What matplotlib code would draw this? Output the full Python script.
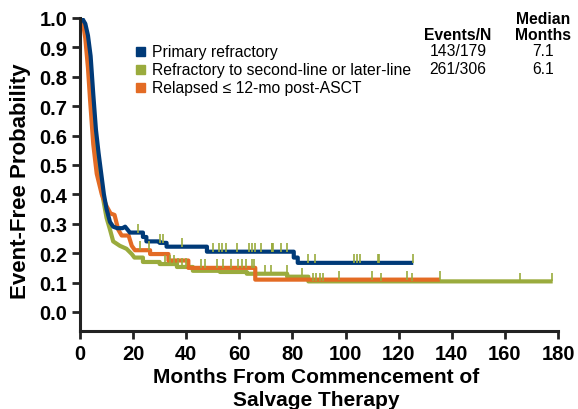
import numpy as np
import matplotlib.pyplot as plt

plt.rcParams['font.family'] = ['Liberation Sans', 'DejaVu Sans']

# Kaplan-Meier curves (months, probability)
blue_t = [0, 0.7, 2, 3, 4, 5, 6, 7, 8, 9, 10, 11.3, 12.5, 14, 16, 17, 18.8, 23.7, 25, 30, 32.6, 47.8, 80.5, 82, 125.5]
blue_s = [1.0, 1.0, 0.98, 0.94, 0.87, 0.74, 0.62, 0.54, 0.47, 0.40, 0.35, 0.306, 0.29, 0.285, 0.285, 0.29, 0.27, 0.255, 0.24, 0.235, 0.222, 0.205, 0.185, 0.167, 0.167]

orange_t = [0, 1, 2, 3, 3.8, 5, 6.3, 8.2, 10, 11.5, 13, 14.4, 15.7, 18.3, 19.5, 20.7, 26.4, 33.3, 40.8, 66, 135.5]
orange_s = [1.0, 0.99, 0.93, 0.83, 0.72, 0.57, 0.47, 0.40, 0.36, 0.335, 0.33, 0.28, 0.26, 0.26, 0.225, 0.21, 0.197, 0.175, 0.15, 0.11, 0.11]

green_t = [0, 1, 2, 3, 4, 5, 6, 7, 8, 9, 10, 11.3, 12.5, 15, 17.5, 19.5, 20.5, 23.7, 30, 36.5, 42.5, 52.7, 62.8, 78, 86, 178]
green_s = [1.0, 0.99, 0.96, 0.88, 0.76, 0.64, 0.55, 0.48, 0.42, 0.37, 0.32, 0.28, 0.24, 0.225, 0.215, 0.197, 0.185, 0.17, 0.163, 0.153, 0.14, 0.136, 0.13, 0.12, 0.104, 0.104]

# censored observations
blue_cens = [21.7, 30.1, 31.4, 38.3, 50, 52.4, 53.6, 55, 59, 63.8, 64.9, 66, 68.3, 72.2, 72.4, 72.7,
             75.8, 78.1, 85.7, 88.6, 103.2, 104.2, 105.4, 112.2, 112.5, 125.5]
orange_cens = [22.6, 26, 45.6, 47, 51.5, 54, 57, 59.4, 60.9, 62.5, 64.6, 65.6, 97.6, 110, 123.2, 135.5]
green_cens = [32, 34, 35.5, 37, 38.5, 40, 69.7, 71.9, 77.8, 83.7, 87.6, 88.7, 90.4, 91.6, 113.4,
              125.2, 165.7, 177.8]

labels = ["Primary refractory", "Refractory to second-line or later-line", "Relapsed \u2264 12-mo post-ASCT"]
events = ["143/179", "261/306", ""]
medians = ["7.1", "6.1", ""]

c_blue = "#003a78"
c_green = "#9aab3d"
c_orange = "#e36b24"

# the steep early drop looks smooth in the original, steps only after this
smooth_until = 21

fig = plt.figure(figsize=(5.78, 4.10), dpi=100)
ax = fig.add_axes([0.1384, 0.190, 0.827, 0.764])


def surv_at(ts, ss, x):
    i = np.searchsorted(ts, x, side='right') - 1
    return np.array(ss)[i]


def km_path(ts, ss):
    ts = np.array(ts, float)
    ss = np.array(ss, float)
    k = np.searchsorted(ts, smooth_until) - 1
    xs = list(ts[:k + 1])
    ys = list(ss[:k + 1])
    for i in range(k + 1, len(ts)):
        xs += [ts[i], ts[i]]
        ys += [ss[i - 1], ss[i]]
    return xs, ys


for ts, ss, col in [(green_t, green_s, c_green),
                    (orange_t, orange_s, c_orange),
                    (blue_t, blue_s, c_blue)]:
    xs, ys = km_path(ts, ss)
    ax.plot(xs, ys, color=col, lw=3, solid_joinstyle='round', solid_capstyle='butt', zorder=2)

for ts, ss, cens in [(green_t, green_s, green_cens), (orange_t, orange_s, orange_cens),
                     (blue_t, blue_s, blue_cens)]:
    yc = surv_at(ts, ss, np.array(cens))
    ax.vlines(cens, yc, yc + 0.03, color=c_green, lw=1.2, zorder=3)

ax.set_xlim(0, 180)
ax.set_ylim(-0.065, 1.0)
ax.set_xticks(np.arange(0, 181, 20))
ax.set_yticks(np.arange(0, 1.01, 0.1))
ax.set_yticklabels([f"{v:.1f}" for v in np.arange(0, 1.01, 0.1)])
for s in ['top', 'right']:
    ax.spines[s].set_visible(False)
for s in ['left', 'bottom']:
    ax.spines[s].set_linewidth(2.2)
    ax.spines[s].set_color('#222222')
ax.tick_params(width=2, length=6, color='#222222', labelsize=14.5, pad=3)
for lab in ax.get_xticklabels() + ax.get_yticklabels():
    lab.set_fontweight('bold')

fig.text(0.036, 0.559, "Event-Free Probability", rotation=90, ha='center', va='center',
         fontsize=16, fontweight='bold')
fig.text(0.547, 0.080, "Months From Commencement of", ha='center', va='center',
         fontsize=15, fontweight='bold')
fig.text(0.547, 0.024, "Salvage Therapy", ha='center', va='center',
         fontsize=15, fontweight='bold')

# legend with table
rows_y = [52, 70, 88]
for y, lab, ev, md, col in zip(rows_y, labels, events, medians, [c_blue, c_green, c_orange]):
    fy = 1 - y / 410
    fig.patches.append(plt.Rectangle((136 / 578, fy - 4.5 / 410), 9 / 578, 9 / 410,
                                     transform=fig.transFigure, color=col))
    fig.text(152 / 578, fy, lab, ha='left', va='center', fontsize=11.3)
    fig.text(458 / 578, fy, ev, ha='center', va='center', fontsize=11.3)
    fig.text(543 / 578, fy, md, ha='center', va='center', fontsize=11.3)
fig.text(458 / 578, 1 - 35 / 410, "Events/N", ha='center', va='center', fontsize=11.3, fontweight='bold')
fig.text(543 / 578, 1 - 19 / 410, "Median", ha='center', va='center', fontsize=11.3, fontweight='bold')
fig.text(543 / 578, 1 - 35 / 410, "Months", ha='center', va='center', fontsize=11.3, fontweight='bold')

fig.savefig("out.png", dpi=100)
